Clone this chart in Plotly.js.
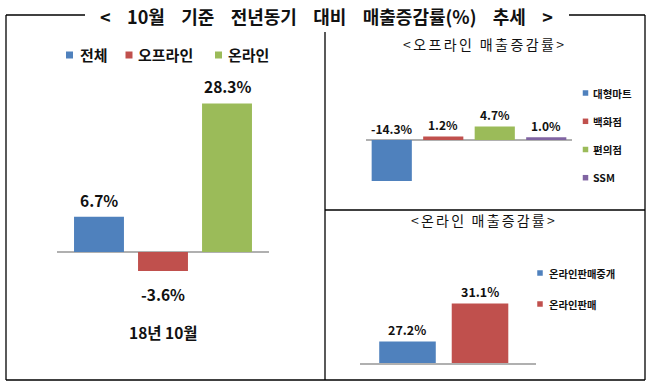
<!DOCTYPE html>
<html>
<head>
<meta charset="utf-8">
<script src="https://cdn.plot.ly/plotly-3.0.1.min.js"></script>
<style>html,body{margin:0;padding:0;background:#fff;overflow:hidden;width:649px;height:390px;}#chart{width:649px;height:390px;}</style>
</head>
<body>
<div id="chart"></div>
<script>
// ---- data ----
const mainTitleWords = ['<', '10월', '기준', '전년동기', '대비', '매출증감률(%)', '추세', '>'];
const period = '18년 10월';
const totalCats = ['전체', '오프라인', '온라인'];
const totalVals = [6.7, -3.6, 28.3];
const offTitle = '<오프라인 매출증감률>';
const offCats = ['대형마트', '백화점', '편의점', 'SSM'];
const offVals = [-14.3, 1.2, 4.7, 1.0];
const onTitle = '<온라인 매출증감률>';
const onCats = ['온라인판매중개', '온라인판매'];
const onVals = [27.2, 31.1];

// ---- styles ----
const colors = ['#4F81BD', '#C0504D', '#9BBB59', '#8064A2'];
const FONT = '"Noto Sans CJK KR", "Noto Sans", sans-serif';
const W = 649, H = 390;
const px = v => v / W;
const py = v => 1 - v / H;

const traces = [];
const annotations = [];
const shapes = [];

function addChart(cats, vals, xa, ya, labelFn, fontSize) {
  cats.forEach((c, i) => {
    traces.push({
      type: 'bar', x: [c], y: [vals[i]], name: c,
      xaxis: xa, yaxis: ya, showlegend: false,
      width: 0.78,
      marker: { color: colors[i], line: { width: 0 } },
      hoverinfo: 'skip'
    });
    const lab = labelFn(vals[i]);
    annotations.push({
      x: c, y: lab.y, xref: xa, yref: ya, showarrow: false,
      text: vals[i].toFixed(1) + '%', yshift: lab.shift, xanchor: 'center', yanchor: 'middle',
      font: { family: FONT, size: fontSize, color: '#111', weight: 'bold' }
    });
  });
}

addChart(totalCats, totalVals, 'x', 'y',
  v => ({ y: v, shift: v >= 0 ? 17 : -23 }), 15.5);
addChart(offCats, offVals, 'x2', 'y2',
  v => ({ y: Math.max(0, v), shift: 12 }), 12);
addChart(onCats, onVals, 'x3', 'y3',
  v => ({ y: v, shift: 12 }), 12.5);

// ---- legends (colour key drawn as small squares + text) ----
function addLegend(cats, squareX, textX, ys, sq, fontSize) {
  cats.forEach((c, i) => {
    const sx = squareX[i], tx = textX[i], yy = ys[i];
    shapes.push({ type: 'rect', xref: 'paper', yref: 'paper',
      x0: px(sx - sq / 2), x1: px(sx + sq / 2), y0: py(yy + sq / 2), y1: py(yy - sq / 2),
      fillcolor: colors[i], line: { width: 0 } });
    annotations.push({ xref: 'paper', yref: 'paper', x: px(tx), y: py(yy), text: c, showarrow: false,
      xanchor: 'left', yanchor: 'middle',
      font: { family: FONT, size: fontSize, color: '#111', weight: 'bold' } });
  });
}
addLegend(totalCats, [69.5, 129, 218.5], [78, 136, 226], [55, 55, 55], 7, 15);
addLegend(offCats, [585.5, 585.5, 585.5, 585.5], [591, 591, 591, 591], [93, 121.3, 149.5, 177.7], 5.5, 10.5);
addLegend(onCats, [540, 540], [547, 547], [273, 304], 5.5, 10.3);

const nb = '\u00a0';
annotations.push(
  { xref: 'paper', yref: 'paper', x: px(163), y: py(332), text: period, showarrow: false,
    xanchor: 'center', yanchor: 'middle',
    font: { family: FONT, size: 15.5, color: '#111', weight: 'bold' } },
  { xref: 'paper', yref: 'paper', x: px(484), y: py(44), showarrow: false,
    text: '<span style="letter-spacing:2.4px">' + offTitle.replace(/</g, '&lt;').replace(/>/g, '&gt;').replace(/ /g, nb) + '</span>',
    xanchor: 'center', yanchor: 'middle',
    font: { family: FONT, size: 14, color: '#111' } },
  { xref: 'paper', yref: 'paper', x: px(484), y: py(220), showarrow: false,
    text: '<span style="letter-spacing:2.2px">' + onTitle.replace(/</g, '&lt;').replace(/>/g, '&gt;').replace(/ /g, nb) + '</span>',
    xanchor: 'center', yanchor: 'middle',
    font: { family: FONT, size: 14, color: '#111' } }
);

function seg(x0, y0, x1, y1) {
  return { type: 'line', xref: 'paper', yref: 'paper', x0: px(x0), y0: py(y0), x1: px(x1), y1: py(y1),
    line: { color: '#000', width: 1.3 } };
}
shapes.push(
  seg(6, 15, 85, 15), seg(569, 15, 645, 15),
  seg(6, 15, 6, 380), seg(645, 15, 645, 380), seg(6, 380, 645, 380),
  seg(325, 32, 325, 380), seg(325, 210, 645, 210)
);

const hiddenX = { type: 'category', showticklabels: false, showgrid: false, zeroline: false, showline: false, ticks: '', fixedrange: true };
const hiddenY = { showticklabels: false, showgrid: false, ticks: '', showline: false, fixedrange: true };

const gap = nb + nb + nb + nb;
const mainTitle = mainTitleWords.join(gap).replace(/</g, '&lt;').replace(/>/g, '&gt;');

const layout = {
  width: W, height: H,
  margin: { l: 0, r: 0, t: 0, b: 0 },
  paper_bgcolor: '#fff', plot_bgcolor: 'rgba(0,0,0,0)',
  barmode: 'overlay',
  showlegend: false,
  font: { family: FONT, color: '#111' },
  title: { text: mainTitle, x: px(326.5), xanchor: 'center', y: py(18), yanchor: 'middle',
    font: { family: FONT, size: 18, color: '#111', weight: 'bold' } },
  xaxis: Object.assign({}, hiddenX, { domain: [px(57), px(269)], range: [-0.656, 2.656], anchor: 'y' }),
  yaxis: Object.assign({}, hiddenY, { domain: [py(300), py(95)], range: [-9.14, 29.9], anchor: 'x',
    zeroline: true, zerolinecolor: '#b0b0b0', zerolinewidth: 1.5 }),
  xaxis2: Object.assign({}, hiddenX, { domain: [px(366), px(572)], range: [-0.5, 3.5], anchor: 'y2' }),
  yaxis2: Object.assign({}, hiddenY, { domain: [py(190), py(100)], range: [-17.42, 13.94], anchor: 'x2',
    zeroline: true, zerolinecolor: '#b0b0b0', zerolinewidth: 1.5 }),
  xaxis3: Object.assign({}, hiddenX, { domain: [px(360), px(536)], range: [-0.655, 1.772], anchor: 'y3',
    showline: true, linecolor: '#b0b0b0', linewidth: 1.5 }),
  yaxis3: Object.assign({}, hiddenY, { domain: [py(363), py(280)], range: [25, 33.52], anchor: 'x3', zeroline: false }),
  annotations: annotations,
  shapes: shapes
};

Plotly.newPlot('chart', traces, layout, { displayModeBar: false, staticPlot: true });
</script>
</body>
</html>
